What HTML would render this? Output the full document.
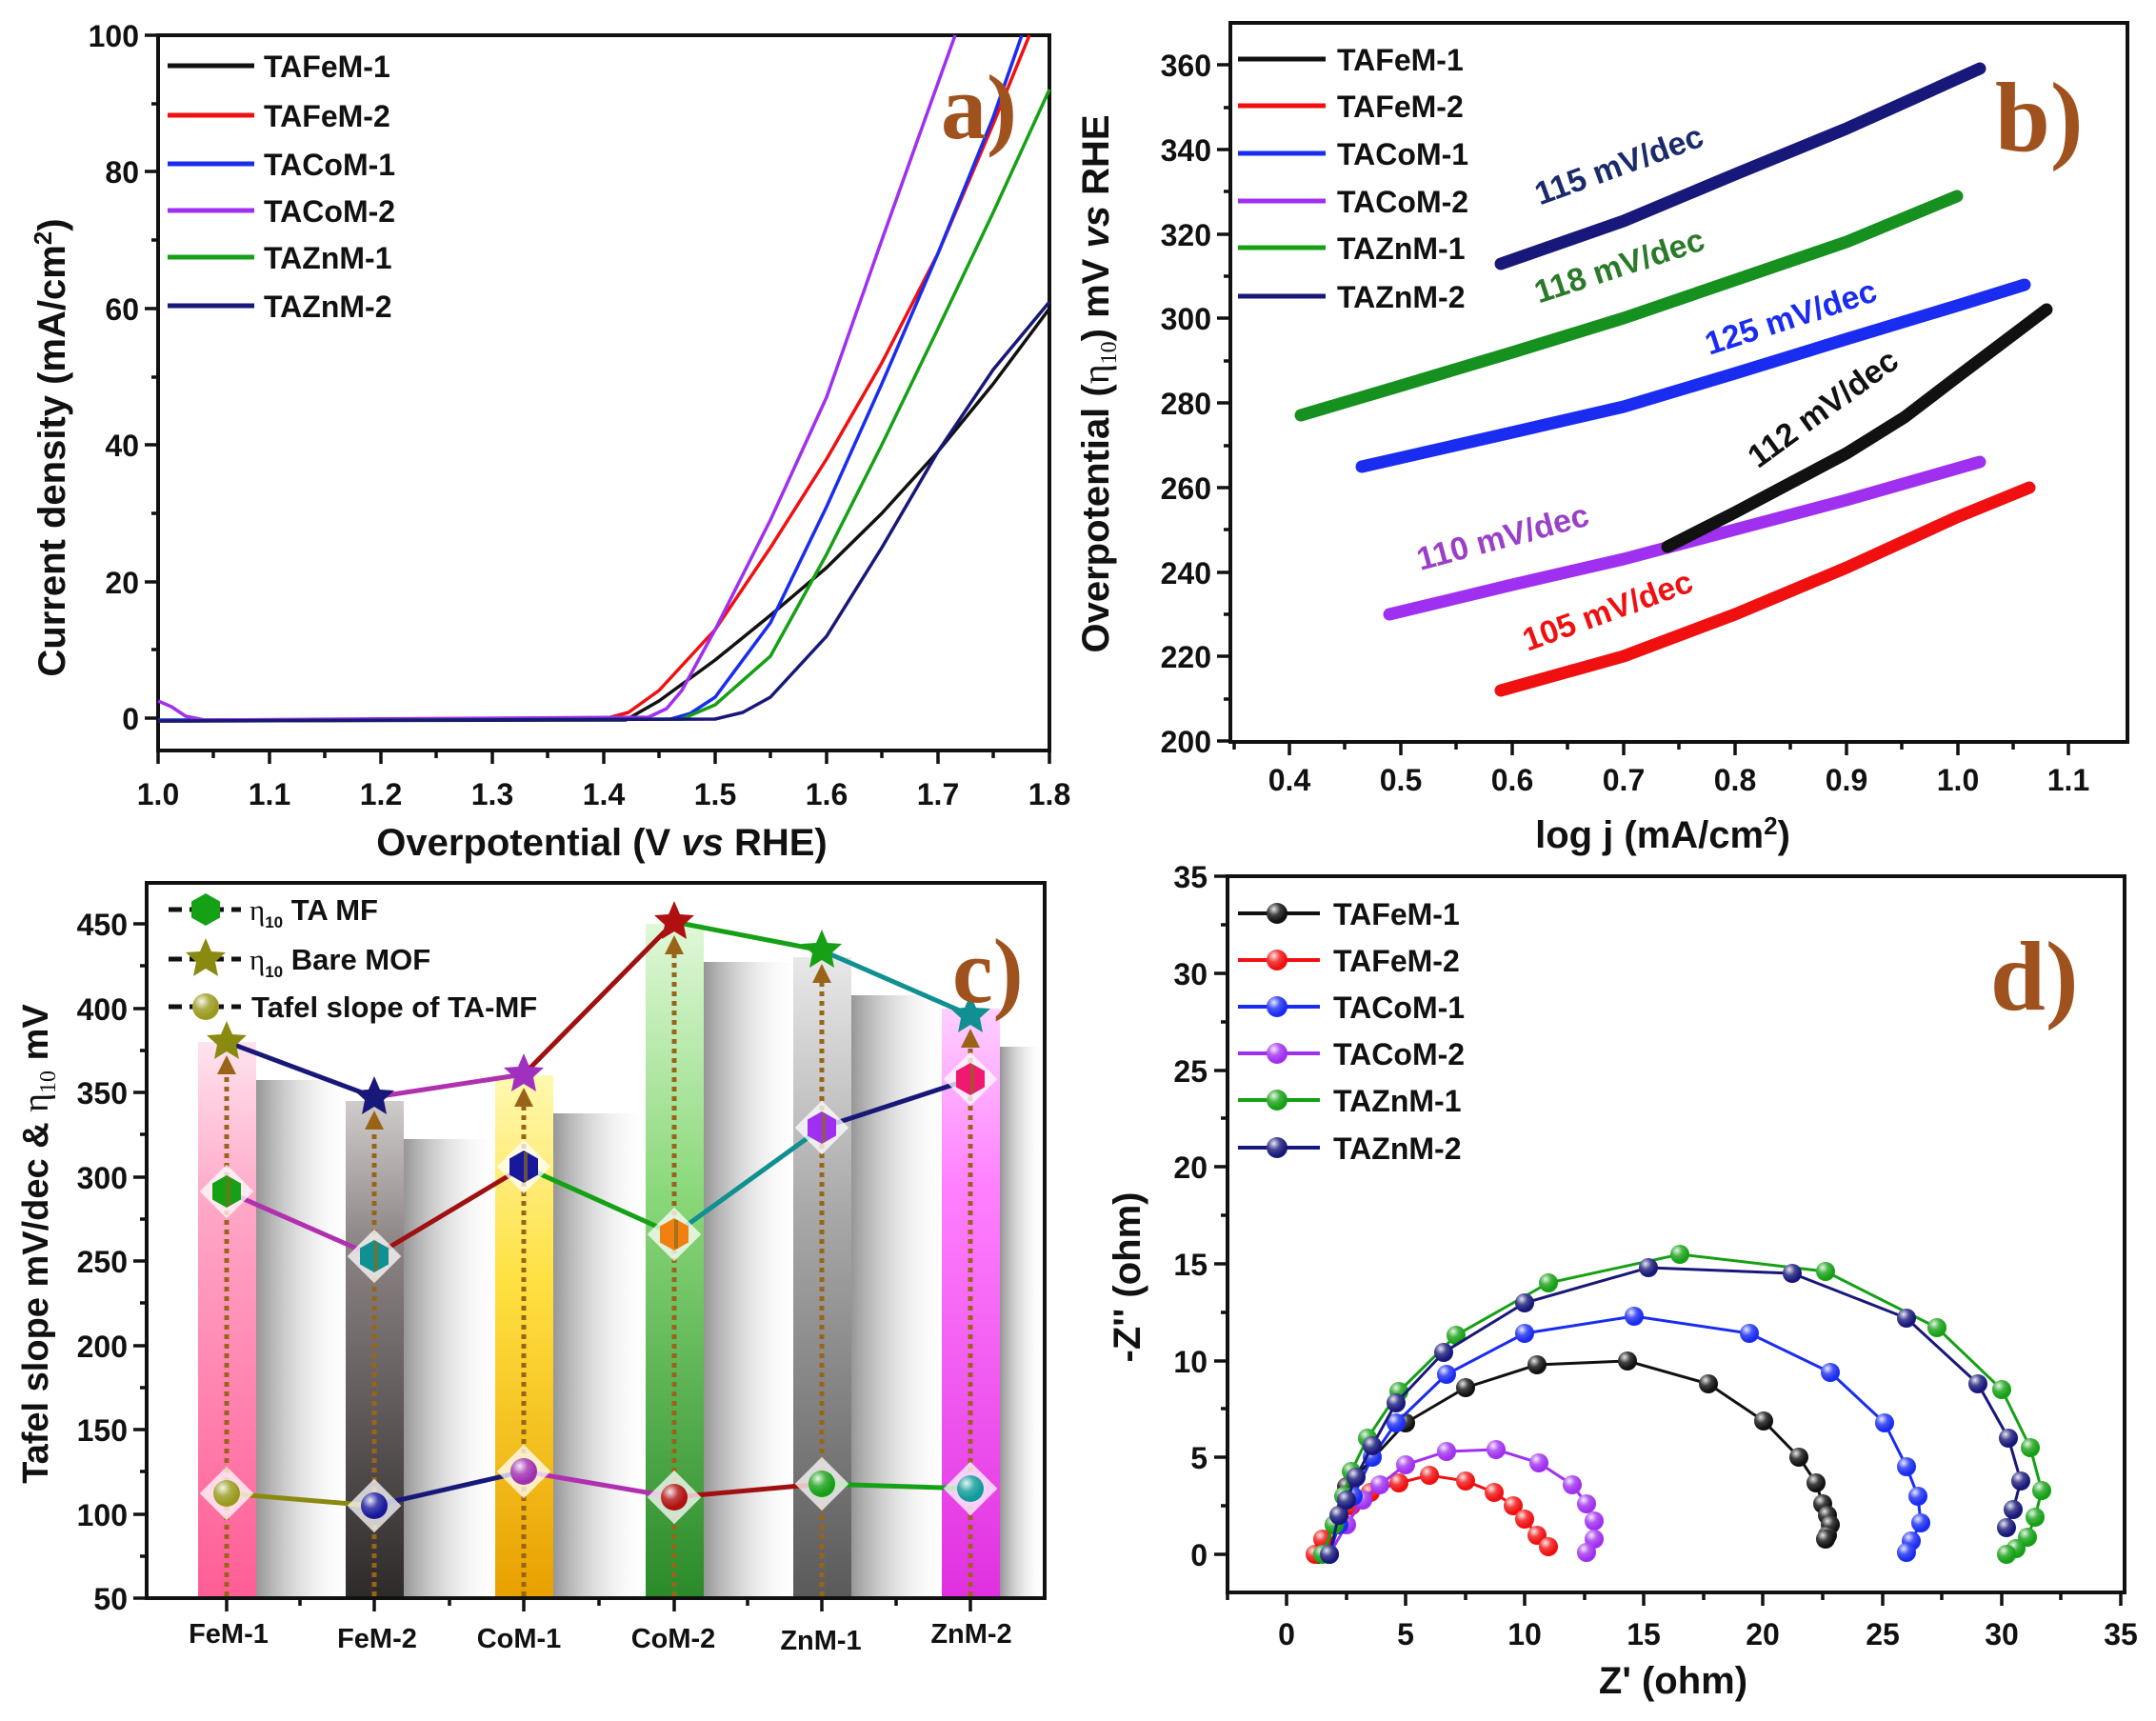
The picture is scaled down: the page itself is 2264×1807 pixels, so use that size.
<!DOCTYPE html>
<html><head><meta charset="utf-8">
<style>
html,body{margin:0;padding:0;background:#fff;}
svg{display:block;}
text{font-family:"Liberation Sans",Arial,sans-serif;font-weight:bold;fill:#111;}
.t{font-size:32px;}
.lg{font-size:32px;}
.ser{font-family:"Liberation Serif","Times New Roman",serif;font-weight:bold;}
.ax{fill:none;stroke:#111;stroke-width:4;}
.tk{stroke:#111;stroke-width:3.5;}
</style></head><body>
<svg width="2264" height="1807" viewBox="0 0 2264 1807" xmlns="http://www.w3.org/2000/svg">
<defs>
<radialGradient id="hl" cx="0.35" cy="0.3" r="0.6"><stop offset="0" stop-color="#fff" stop-opacity="0.9"/><stop offset="0.5" stop-color="#fff" stop-opacity="0.2"/><stop offset="1" stop-color="#fff" stop-opacity="0"/></radialGradient>
<marker id="mk" markerUnits="userSpaceOnUse" markerWidth="26" markerHeight="26" refX="13" refY="13"><circle cx="13" cy="13" r="10" fill="#111"/><circle cx="13" cy="13" r="10" fill="url(#hl)"/></marker>
<marker id="mr" markerUnits="userSpaceOnUse" markerWidth="26" markerHeight="26" refX="13" refY="13"><circle cx="13" cy="13" r="10" fill="#f01010"/><circle cx="13" cy="13" r="10" fill="url(#hl)"/></marker>
<marker id="mb" markerUnits="userSpaceOnUse" markerWidth="26" markerHeight="26" refX="13" refY="13"><circle cx="13" cy="13" r="10" fill="#1a2cf0"/><circle cx="13" cy="13" r="10" fill="url(#hl)"/></marker>
<marker id="mp" markerUnits="userSpaceOnUse" markerWidth="26" markerHeight="26" refX="13" refY="13"><circle cx="13" cy="13" r="10" fill="#a030f0"/><circle cx="13" cy="13" r="10" fill="url(#hl)"/></marker>
<marker id="mg" markerUnits="userSpaceOnUse" markerWidth="26" markerHeight="26" refX="13" refY="13"><circle cx="13" cy="13" r="10" fill="#16a016"/><circle cx="13" cy="13" r="10" fill="url(#hl)"/></marker>
<marker id="mn" markerUnits="userSpaceOnUse" markerWidth="26" markerHeight="26" refX="13" refY="13"><circle cx="13" cy="13" r="10" fill="#18187a"/><circle cx="13" cy="13" r="10" fill="url(#hl)"/></marker>
<path id="star" d="M0,-22 L6,-8 L21,-7 L10,3 L13,18 L0,10 L-13,18 L-10,3 L-21,-7 L-6,-8 Z"/>
<path id="hex" d="M0,-17 L15,-8.5 L15,8.5 L0,17 L-15,8.5 L-15,-8.5 Z"/>
<path id="tri" d="M0,-12 L10,8 L-10,8 Z"/>
<linearGradient id="g1" x1="0" y1="0" x2="0" y2="1"><stop offset="0" stop-color="#ffe3ee"/><stop offset="0.3" stop-color="#ffa6c6"/><stop offset="1" stop-color="#ff5d95"/></linearGradient>
<linearGradient id="g2" x1="0" y1="0" x2="0" y2="1"><stop offset="0" stop-color="#d0cccc"/><stop offset="0.3" stop-color="#8a8282"/><stop offset="1" stop-color="#2e2a2a"/></linearGradient>
<linearGradient id="g3" x1="0" y1="0" x2="0" y2="1"><stop offset="0" stop-color="#fff8b0"/><stop offset="0.4" stop-color="#ffe040"/><stop offset="1" stop-color="#e8a000"/></linearGradient>
<linearGradient id="g4" x1="0" y1="0" x2="0" y2="1"><stop offset="0" stop-color="#e0f8d8"/><stop offset="0.4" stop-color="#8ad87a"/><stop offset="1" stop-color="#2a8a2a"/></linearGradient>
<linearGradient id="g5" x1="0" y1="0" x2="0" y2="1"><stop offset="0" stop-color="#e8e8e8"/><stop offset="0.4" stop-color="#a8a8a8"/><stop offset="1" stop-color="#5a5a5a"/></linearGradient>
<linearGradient id="g6" x1="0" y1="0" x2="0" y2="1"><stop offset="0" stop-color="#ffd0ff"/><stop offset="0.3" stop-color="#ff80ff"/><stop offset="1" stop-color="#e030e0"/></linearGradient>
<linearGradient id="sh" x1="0" y1="0" x2="1" y2="0"><stop offset="0" stop-color="#8a8a8a" stop-opacity="0.9"/><stop offset="1" stop-color="#ffffff" stop-opacity="0"/></linearGradient>
</defs>

<!-- ============ PANEL A ============ -->
<g>
<rect x="166" y="37" width="936" height="751" class="ax"/>
<g class="tk">
<line x1="152" y1="754" x2="166" y2="754"/><line x1="152" y1="611" x2="166" y2="611"/><line x1="152" y1="467" x2="166" y2="467"/><line x1="152" y1="324" x2="166" y2="324"/><line x1="152" y1="180" x2="166" y2="180"/><line x1="152" y1="37" x2="166" y2="37"/>
<line x1="159" y1="682" x2="166" y2="682"/><line x1="159" y1="539" x2="166" y2="539"/><line x1="159" y1="396" x2="166" y2="396"/><line x1="159" y1="252" x2="166" y2="252"/><line x1="159" y1="109" x2="166" y2="109"/>
<line x1="166" y1="788" x2="166" y2="802"/><line x1="283" y1="788" x2="283" y2="802"/><line x1="400" y1="788" x2="400" y2="802"/><line x1="517" y1="788" x2="517" y2="802"/><line x1="634" y1="788" x2="634" y2="802"/><line x1="751" y1="788" x2="751" y2="802"/><line x1="868" y1="788" x2="868" y2="802"/><line x1="985" y1="788" x2="985" y2="802"/><line x1="1102" y1="788" x2="1102" y2="802"/>
<line x1="224" y1="788" x2="224" y2="796"/><line x1="341" y1="788" x2="341" y2="796"/><line x1="458" y1="788" x2="458" y2="796"/><line x1="575" y1="788" x2="575" y2="796"/><line x1="692" y1="788" x2="692" y2="796"/><line x1="809" y1="788" x2="809" y2="796"/><line x1="926" y1="788" x2="926" y2="796"/><line x1="1043" y1="788" x2="1043" y2="796"/>
</g>
<g class="t" text-anchor="end">
<text x="146" y="766">0</text><text x="146" y="623">20</text><text x="146" y="479">40</text><text x="146" y="336">60</text><text x="146" y="192">80</text><text x="146" y="49">100</text>
</g>
<g class="t" text-anchor="middle">
<text x="166" y="845">1.0</text><text x="283" y="845">1.1</text><text x="400" y="845">1.2</text><text x="517" y="845">1.3</text><text x="634" y="845">1.4</text><text x="751" y="845">1.5</text><text x="868" y="845">1.6</text><text x="985" y="845">1.7</text><text x="1102" y="845">1.8</text>
</g>
<text x="632" y="898" text-anchor="middle" style="font-size:40px">Overpotential (V <tspan font-style="italic">vs</tspan> RHE)</text>
<text transform="translate(68,470) rotate(-90)" text-anchor="middle" style="font-size:40px">Current density (mA/cm<tspan dy="-14" style="font-size:26px">2</tspan><tspan dy="14">)</tspan></text>
<g fill="none" stroke-width="3.5" stroke-linejoin="round">
<polyline stroke="#111" points="166,757 657,756 692,736 751,693 809,646 868,596 926,539 985,474 1043,403 1102,324"/>
<polyline stroke="#f01010" points="166,757 634,755 660,748 692,725 751,661 809,575 868,482 926,381 985,266 1043,130 1081,37"/>
<polyline stroke="#1a2cf0" points="166,756 704,755 725,749 751,732 809,654 868,532 926,403 985,266 1043,123 1073,37"/>
<polyline stroke="#a030f0" points="166,736 180,742 195,752 215,756 681,753 700,744 716,725 751,661 809,546 868,417 926,252 985,87 1003,37"/>
<polyline stroke="#16a016" points="166,757 716,755 751,740 809,689 868,582 926,467 985,345 1043,223 1102,94"/>
<polyline stroke="#18187a" points="166,757 751,755 780,748 809,732 868,668 926,575 985,474 1043,388 1102,317"/>
</g>
<g stroke-width="5">
<line x1="176" y1="69" x2="267" y2="69" stroke="#111"/><line x1="176" y1="121" x2="267" y2="121" stroke="#f01010"/><line x1="176" y1="172" x2="267" y2="172" stroke="#1a2cf0"/><line x1="176" y1="221" x2="267" y2="221" stroke="#a030f0"/><line x1="176" y1="270" x2="267" y2="270" stroke="#16a016"/><line x1="176" y1="321" x2="267" y2="321" stroke="#18187a"/>
</g>
<g class="lg">
<text x="277" y="81">TAFeM-1</text><text x="277" y="133">TAFeM-2</text><text x="277" y="184">TACoM-1</text><text x="277" y="233">TACoM-2</text><text x="277" y="282">TAZnM-1</text><text x="277" y="333">TAZnM-2</text>
</g>
<text x="988" y="145" class="ser" style="font-size:96px;fill:#a0521e">a)</text>
</g>

<!-- ============ PANEL B ============ -->
<g>
<rect x="1292" y="24" width="942" height="755" class="ax"/>
<g class="tk">
<line x1="1278" y1="778" x2="1292" y2="778"/><line x1="1278" y1="689" x2="1292" y2="689"/><line x1="1278" y1="601" x2="1292" y2="601"/><line x1="1278" y1="512" x2="1292" y2="512"/><line x1="1278" y1="423" x2="1292" y2="423"/><line x1="1278" y1="334" x2="1292" y2="334"/><line x1="1278" y1="246" x2="1292" y2="246"/><line x1="1278" y1="157" x2="1292" y2="157"/><line x1="1278" y1="68" x2="1292" y2="68"/>
<line x1="1285" y1="734" x2="1292" y2="734"/><line x1="1285" y1="645" x2="1292" y2="645"/><line x1="1285" y1="556" x2="1292" y2="556"/><line x1="1285" y1="468" x2="1292" y2="468"/><line x1="1285" y1="379" x2="1292" y2="379"/><line x1="1285" y1="290" x2="1292" y2="290"/><line x1="1285" y1="201" x2="1292" y2="201"/><line x1="1285" y1="113" x2="1292" y2="113"/>
<line x1="1354" y1="779" x2="1354" y2="793"/><line x1="1471" y1="779" x2="1471" y2="793"/><line x1="1588" y1="779" x2="1588" y2="793"/><line x1="1705" y1="779" x2="1705" y2="793"/><line x1="1822" y1="779" x2="1822" y2="793"/><line x1="1939" y1="779" x2="1939" y2="793"/><line x1="2056" y1="779" x2="2056" y2="793"/><line x1="2172" y1="779" x2="2172" y2="793"/>
<line x1="1296" y1="779" x2="1296" y2="787"/><line x1="1412" y1="779" x2="1412" y2="787"/><line x1="1529" y1="779" x2="1529" y2="787"/><line x1="1646" y1="779" x2="1646" y2="787"/><line x1="1763" y1="779" x2="1763" y2="787"/><line x1="1880" y1="779" x2="1880" y2="787"/><line x1="1997" y1="779" x2="1997" y2="787"/><line x1="2114" y1="779" x2="2114" y2="787"/>
</g>
<g class="t" text-anchor="end">
<text x="1272" y="790">200</text><text x="1272" y="701">220</text><text x="1272" y="613">240</text><text x="1272" y="524">260</text><text x="1272" y="435">280</text><text x="1272" y="346">300</text><text x="1272" y="258">320</text><text x="1272" y="169">340</text><text x="1272" y="80">360</text>
</g>
<g class="t" text-anchor="middle">
<text x="1354" y="830">0.4</text><text x="1471" y="830">0.5</text><text x="1588" y="830">0.6</text><text x="1705" y="830">0.7</text><text x="1822" y="830">0.8</text><text x="1939" y="830">0.9</text><text x="2056" y="830">1.0</text><text x="2172" y="830">1.1</text>
</g>
<text x="1746" y="890" text-anchor="middle" style="font-size:40px">log j (mA/cm<tspan dy="-14" style="font-size:26px">2</tspan><tspan dy="14">)</tspan></text>
<text transform="translate(1164,403) rotate(-90)" text-anchor="middle" style="font-size:40px">Overpotential (<tspan class="ser" style="font-weight:normal">η</tspan><tspan dy="8" style="font-size:24px;font-weight:normal" class="ser">10</tspan><tspan dy="-8">) mV </tspan><tspan font-style="italic">vs</tspan> RHE</text>
<g fill="none" stroke-width="13" stroke-linecap="round" stroke-linejoin="round">
<polyline stroke="#18187a" points="1576,277 1705,232 1822,183 1939,135 2079,72"/>
<polyline stroke="#16901e" points="1366,436 1471,405 1588,370 1705,334 1822,294 1939,254 2055,206"/>
<polyline stroke="#1a2cf0" points="1430,490 1588,454 1705,427 1822,392 1939,356 2055,321 2126,299"/>
<polyline stroke="#a030f0" points="1459,645 1588,614 1705,587 1822,556 1939,525 2079,485"/>
<polyline stroke="#111" points="1751,574 1822,538 1939,476 2000,438 2055,396 2149,325"/>
<polyline stroke="#f01010" points="1576,725 1705,689 1822,645 1939,596 2055,543 2131,512"/>
</g>
<g stroke-width="5">
<line x1="1300" y1="62" x2="1392" y2="62" stroke="#111"/><line x1="1300" y1="111" x2="1392" y2="111" stroke="#f01010"/><line x1="1300" y1="161" x2="1392" y2="161" stroke="#1a2cf0"/><line x1="1300" y1="211" x2="1392" y2="211" stroke="#a030f0"/><line x1="1300" y1="260" x2="1392" y2="260" stroke="#16a016"/><line x1="1300" y1="311" x2="1392" y2="311" stroke="#18187a"/>
</g>
<g class="lg">
<text x="1404" y="74">TAFeM-1</text><text x="1404" y="123">TAFeM-2</text><text x="1404" y="173">TACoM-1</text><text x="1404" y="223">TACoM-2</text><text x="1404" y="272">TAZnM-1</text><text x="1404" y="323">TAZnM-2</text>
</g>
<g class="ser" style="font-size:34px" text-anchor="middle">
<text transform="translate(1704,184) rotate(-20)" style="fill:#1a2a6a">115 mV/dec</text>
<text transform="translate(1704,290) rotate(-18)" style="fill:#2a7a2a">118 mV/dec</text>
<text transform="translate(1884,344) rotate(-18)" style="fill:#1a2cf0">125 mV/dec</text>
<text transform="translate(1921,438) rotate(-36)" style="fill:#111">112 mV/dec</text>
<text transform="translate(1581,575) rotate(-15)" style="fill:#9a40c8">110 mV/dec</text>
<text transform="translate(1692,652) rotate(-20)" style="fill:#f01010">105 mV/dec</text>
</g>
<text x="2095" y="158" class="ser" style="font-size:104px;fill:#a0521e">b)</text>
</g>

<!-- ============ PANEL C ============ -->
<g>
<g>
<rect x="269" y="1134" width="100" height="544" fill="url(#sh)"/>
<rect x="424" y="1196" width="100" height="482" fill="url(#sh)"/>
<rect x="581" y="1169" width="100" height="509" fill="url(#sh)"/>
<rect x="739" y="1010" width="100" height="668" fill="url(#sh)"/>
<rect x="894" y="1045" width="100" height="633" fill="url(#sh)"/>
<rect x="1050" y="1099" width="47" height="579" fill="url(#sh)"/>
</g>
<g>
<rect x="208" y="1094" width="61" height="584" fill="url(#g1)"/>
<rect x="363" y="1156" width="61" height="522" fill="url(#g2)"/>
<rect x="520" y="1129" width="61" height="549" fill="url(#g3)"/>
<rect x="678" y="970" width="61" height="708" fill="url(#g4)"/>
<rect x="833" y="1005" width="61" height="673" fill="url(#g5)"/>
<rect x="989" y="1059" width="61" height="619" fill="url(#g6)"/>
</g>
<rect x="154" y="927" width="943" height="751" class="ax"/>
<g class="tk">
<line x1="140" y1="1678" x2="154" y2="1678"/><line x1="140" y1="1590" x2="154" y2="1590"/><line x1="140" y1="1501" x2="154" y2="1501"/><line x1="140" y1="1413" x2="154" y2="1413"/><line x1="140" y1="1324" x2="154" y2="1324"/><line x1="140" y1="1236" x2="154" y2="1236"/><line x1="140" y1="1147" x2="154" y2="1147"/><line x1="140" y1="1059" x2="154" y2="1059"/><line x1="140" y1="970" x2="154" y2="970"/>
<line x1="147" y1="1634" x2="154" y2="1634"/><line x1="147" y1="1545" x2="154" y2="1545"/><line x1="147" y1="1457" x2="154" y2="1457"/><line x1="147" y1="1368" x2="154" y2="1368"/><line x1="147" y1="1280" x2="154" y2="1280"/><line x1="147" y1="1191" x2="154" y2="1191"/><line x1="147" y1="1103" x2="154" y2="1103"/><line x1="147" y1="1014" x2="154" y2="1014"/>
<line x1="238" y1="1678" x2="238" y2="1692"/><line x1="393" y1="1678" x2="393" y2="1692"/><line x1="550" y1="1678" x2="550" y2="1692"/><line x1="708" y1="1678" x2="708" y2="1692"/><line x1="863" y1="1678" x2="863" y2="1692"/><line x1="1019" y1="1678" x2="1019" y2="1692"/>
<line x1="315" y1="1678" x2="315" y2="1686"/><line x1="472" y1="1678" x2="472" y2="1686"/><line x1="629" y1="1678" x2="629" y2="1686"/><line x1="785" y1="1678" x2="785" y2="1686"/><line x1="941" y1="1678" x2="941" y2="1686"/>
</g>
<g class="t" text-anchor="end">
<text x="134" y="1690">50</text><text x="134" y="1602">100</text><text x="134" y="1513">150</text><text x="134" y="1425">200</text><text x="134" y="1336">250</text><text x="134" y="1248">300</text><text x="134" y="1159">350</text><text x="134" y="1071">400</text><text x="134" y="982">450</text>
</g>
<g text-anchor="middle" style="font-size:29px">
<text x="240" y="1725">FeM-1</text><text x="396" y="1730">FeM-2</text><text x="545" y="1730">CoM-1</text><text x="707" y="1730">CoM-2</text><text x="862" y="1732">ZnM-1</text><text x="1020" y="1725">ZnM-2</text>
</g>
<text transform="translate(50,1306) rotate(-90)" text-anchor="middle" style="font-size:38px">Tafel slope mV/dec &amp; <tspan class="ser" style="font-weight:normal">η</tspan><tspan dy="8" class="ser" style="font-size:24px;font-weight:normal">10</tspan><tspan dy="-8"> mV</tspan></text>
<g stroke="#9a6418" stroke-width="5" stroke-dasharray="5,5">
<line x1="238" y1="1676" x2="238" y2="1124"/><line x1="393" y1="1676" x2="393" y2="1182"/><line x1="550" y1="1676" x2="550" y2="1158"/><line x1="708" y1="1676" x2="708" y2="998"/><line x1="863" y1="1676" x2="863" y2="1028"/><line x1="1019" y1="1676" x2="1019" y2="1096"/>
</g>
<g fill="#9a6418">
<use href="#tri" x="238" y="1120"/><use href="#tri" x="393" y="1178"/><use href="#tri" x="550" y="1154"/><use href="#tri" x="708" y="994"/><use href="#tri" x="863" y="1024"/><use href="#tri" x="1019" y="1092"/>
</g>
<g stroke-width="5" fill="none">
<line x1="238" y1="1094" x2="393" y2="1152" stroke="#18187a"/><line x1="393" y1="1152" x2="550" y2="1128" stroke="#b030b0"/><line x1="550" y1="1128" x2="708" y2="968" stroke="#a01010"/><line x1="708" y1="968" x2="863" y2="998" stroke="#16a016"/><line x1="863" y1="998" x2="1019" y2="1066" stroke="#109090"/>
<line x1="238" y1="1251" x2="393" y2="1319" stroke="#b030b0"/><line x1="393" y1="1319" x2="550" y2="1225" stroke="#a01010"/><line x1="550" y1="1225" x2="708" y2="1296" stroke="#16a016"/><line x1="708" y1="1296" x2="863" y2="1184" stroke="#109090"/><line x1="863" y1="1184" x2="1019" y2="1133" stroke="#18187a"/>
<line x1="238" y1="1568" x2="393" y2="1581" stroke="#8a8a10"/><line x1="393" y1="1581" x2="550" y2="1545" stroke="#18187a"/><line x1="550" y1="1545" x2="708" y2="1572" stroke="#b030b0"/><line x1="708" y1="1572" x2="863" y2="1558" stroke="#a01010"/><line x1="863" y1="1558" x2="1019" y2="1563" stroke="#16a016"/>
</g>
<g fill="#fff" opacity="0.75">
<rect x="-20" y="-20" width="40" height="40" transform="translate(238,1251) rotate(45)"/><rect x="-20" y="-20" width="40" height="40" transform="translate(393,1319) rotate(45)"/><rect x="-20" y="-20" width="40" height="40" transform="translate(550,1225) rotate(45)"/><rect x="-20" y="-20" width="40" height="40" transform="translate(708,1296) rotate(45)"/><rect x="-20" y="-20" width="40" height="40" transform="translate(863,1184) rotate(45)"/><rect x="-20" y="-20" width="40" height="40" transform="translate(1019,1133) rotate(45)"/>
<rect x="-20" y="-20" width="40" height="40" transform="translate(238,1568) rotate(45)"/><rect x="-20" y="-20" width="40" height="40" transform="translate(393,1581) rotate(45)"/><rect x="-20" y="-20" width="40" height="40" transform="translate(550,1545) rotate(45)"/><rect x="-20" y="-20" width="40" height="40" transform="translate(708,1572) rotate(45)"/><rect x="-20" y="-20" width="40" height="40" transform="translate(863,1558) rotate(45)"/><rect x="-20" y="-20" width="40" height="40" transform="translate(1019,1563) rotate(45)"/>
</g>
<g>
<use href="#star" x="238" y="1094" fill="#8a8a10"/><use href="#star" x="393" y="1152" fill="#18187a"/><use href="#star" x="550" y="1128" fill="#a030c0"/><use href="#star" x="708" y="968" fill="#b01010"/><use href="#star" x="863" y="998" fill="#16a016"/><use href="#star" x="1019" y="1066" fill="#109090"/>
</g>
<g>
<use href="#hex" x="238" y="1251" fill="#16a016"/><use href="#hex" x="393" y="1319" fill="#109090"/><use href="#hex" x="550" y="1225" fill="#18189a"/><use href="#hex" x="708" y="1296" fill="#f08010"/><use href="#hex" x="863" y="1184" fill="#a030f0"/><use href="#hex" x="1019" y="1133" fill="#f01870"/>
</g>
<g fill="#8a6a1a" opacity="0.7">
<rect x="238" y="1236" width="4" height="30"/><rect x="393" y="1304" width="4" height="30"/><rect x="550" y="1210" width="4" height="30"/><rect x="708" y="1281" width="4" height="30"/><rect x="863" y="1169" width="4" height="30"/><rect x="1019" y="1118" width="4" height="30"/>
</g>
<g>
<circle cx="238" cy="1568" r="14" fill="#9a9a20"/><circle cx="393" cy="1581" r="14" fill="#18189a"/><circle cx="550" cy="1545" r="14" fill="#a030b0"/><circle cx="708" cy="1572" r="14" fill="#b01010"/><circle cx="863" cy="1558" r="14" fill="#16a016"/><circle cx="1019" cy="1563" r="14" fill="#109a9a"/>
<circle cx="238" cy="1568" r="14" fill="url(#hl)"/><circle cx="393" cy="1581" r="14" fill="url(#hl)"/><circle cx="550" cy="1545" r="14" fill="url(#hl)"/><circle cx="708" cy="1572" r="14" fill="url(#hl)"/><circle cx="863" cy="1558" r="14" fill="url(#hl)"/><circle cx="1019" cy="1563" r="14" fill="url(#hl)"/>
</g>
<g stroke="#111" stroke-width="5" stroke-dasharray="14,8">
<line x1="177" y1="955" x2="253" y2="955"/><line x1="177" y1="1007" x2="253" y2="1007"/><line x1="177" y1="1057" x2="253" y2="1057"/>
</g>
<use href="#hex" x="216" y="955" fill="#16a016"/>
<use href="#star" x="216" y="1007" fill="#8a8a10"/>
<circle cx="216" cy="1057" r="14" fill="#9a9a20"/><circle cx="216" cy="1057" r="14" fill="url(#hl)"/>
<g style="font-size:31px">
<text x="262" y="966"><tspan class="ser" style="font-weight:normal">η</tspan><tspan dy="8" style="font-size:17px">10</tspan><tspan dy="-8"> TA MF</tspan></text>
<text x="262" y="1018"><tspan class="ser" style="font-weight:normal">η</tspan><tspan dy="8" style="font-size:17px">10</tspan><tspan dy="-8"> Bare MOF</tspan></text>
<text x="264" y="1068">Tafel slope of TA-MF</text>
</g>
<text x="1000" y="1052" class="ser" style="font-size:96px;fill:#a0521e">c)</text>
</g>

<!-- ============ PANEL D ============ -->
<g>
<rect x="1289" y="920" width="942" height="752" class="ax"/>
<g class="tk">
<line x1="1275" y1="1632" x2="1289" y2="1632"/><line x1="1275" y1="1530" x2="1289" y2="1530"/><line x1="1275" y1="1429" x2="1289" y2="1429"/><line x1="1275" y1="1327" x2="1289" y2="1327"/><line x1="1275" y1="1225" x2="1289" y2="1225"/><line x1="1275" y1="1124" x2="1289" y2="1124"/><line x1="1275" y1="1022" x2="1289" y2="1022"/><line x1="1275" y1="920" x2="1289" y2="920"/>
<line x1="1282" y1="1581" x2="1289" y2="1581"/><line x1="1282" y1="1479" x2="1289" y2="1479"/><line x1="1282" y1="1378" x2="1289" y2="1378"/><line x1="1282" y1="1276" x2="1289" y2="1276"/><line x1="1282" y1="1174" x2="1289" y2="1174"/><line x1="1282" y1="1073" x2="1289" y2="1073"/><line x1="1282" y1="971" x2="1289" y2="971"/>
<line x1="1351" y1="1672" x2="1351" y2="1686"/><line x1="1476" y1="1672" x2="1476" y2="1686"/><line x1="1601" y1="1672" x2="1601" y2="1686"/><line x1="1726" y1="1672" x2="1726" y2="1686"/><line x1="1851" y1="1672" x2="1851" y2="1686"/><line x1="1977" y1="1672" x2="1977" y2="1686"/><line x1="2102" y1="1672" x2="2102" y2="1686"/><line x1="2227" y1="1672" x2="2227" y2="1686"/>
<line x1="1289" y1="1672" x2="1289" y2="1680"/><line x1="1414" y1="1672" x2="1414" y2="1680"/><line x1="1539" y1="1672" x2="1539" y2="1680"/><line x1="1664" y1="1672" x2="1664" y2="1680"/><line x1="1789" y1="1672" x2="1789" y2="1680"/><line x1="1914" y1="1672" x2="1914" y2="1680"/><line x1="2039" y1="1672" x2="2039" y2="1680"/><line x1="2164" y1="1672" x2="2164" y2="1680"/>
</g>
<g class="t" text-anchor="end">
<text x="1268" y="1644">0</text><text x="1268" y="1542">5</text><text x="1268" y="1441">10</text><text x="1268" y="1339">15</text><text x="1268" y="1237">20</text><text x="1268" y="1136">25</text><text x="1268" y="1034">30</text><text x="1268" y="932">35</text>
</g>
<g class="t" text-anchor="middle">
<text x="1351" y="1727">0</text><text x="1476" y="1727">5</text><text x="1601" y="1727">10</text><text x="1726" y="1727">15</text><text x="1851" y="1727">20</text><text x="1977" y="1727">25</text><text x="2102" y="1727">30</text><text x="2227" y="1727">35</text>
</g>
<text x="1757" y="1778" text-anchor="middle" style="font-size:40px">Z' (ohm)</text>
<text transform="translate(1197,1341) rotate(-90)" text-anchor="middle" style="font-size:40px">-Z'' (ohm)</text>
<g fill="none" stroke-width="3">
<polyline stroke="#111" marker-start="url(#mk)" marker-mid="url(#mk)" marker-end="url(#mk)" points="1384,1632 1414,1561 1476,1494 1539,1457 1614,1433 1709,1429 1794,1453 1852,1492 1889,1530 1907,1557 1914,1579 1919,1591 1922,1601 1919,1612 1917,1616"/>
<polyline stroke="#f01010" marker-start="url(#mr)" marker-mid="url(#mr)" marker-end="url(#mr)" points="1381,1632 1389,1616 1401,1601 1419,1581 1439,1567 1469,1557 1501,1549 1539,1555 1569,1567 1589,1581 1601,1595 1614,1612 1626,1624"/>
<polyline stroke="#a030f0" marker-start="url(#mp)" marker-mid="url(#mp)" marker-end="url(#mp)" points="1396,1632 1414,1601 1431,1575 1449,1559 1476,1538 1519,1524 1571,1522 1616,1536 1651,1559 1666,1579 1674,1597 1674,1616 1666,1630"/>
<polyline stroke="#1a2cf0" marker-start="url(#mb)" marker-mid="url(#mb)" marker-end="url(#mb)" points="1396,1632 1406,1601 1421,1571 1441,1530 1466,1494 1519,1443 1601,1400 1716,1382 1837,1400 1922,1441 1979,1494 2002,1540 2014,1571 2017,1599 2007,1618 2002,1630"/>
<polyline stroke="#16a016" marker-start="url(#mg)" marker-mid="url(#mg)" marker-end="url(#mg)" points="1389,1632 1401,1601 1411,1571 1419,1545 1436,1510 1469,1461 1529,1402 1626,1347 1764,1317 1917,1335 2034,1394 2102,1459 2132,1520 2144,1565 2137,1593 2129,1614 2117,1626 2107,1632"/>
<polyline stroke="#18187a" marker-start="url(#mn)" marker-mid="url(#mn)" marker-end="url(#mn)" points="1396,1632 1406,1591 1414,1575 1424,1551 1441,1518 1466,1473 1516,1420 1601,1368 1731,1331 1882,1337 2002,1384 2077,1453 2109,1510 2122,1555 2114,1585 2107,1604"/>
</g>
<g stroke-width="4">
<line x1="1300" y1="959" x2="1386" y2="959" stroke="#111"/><line x1="1300" y1="1008" x2="1386" y2="1008" stroke="#f01010"/><line x1="1300" y1="1057" x2="1386" y2="1057" stroke="#1a2cf0"/><line x1="1300" y1="1106" x2="1386" y2="1106" stroke="#a030f0"/><line x1="1300" y1="1155" x2="1386" y2="1155" stroke="#16a016"/><line x1="1300" y1="1205" x2="1386" y2="1205" stroke="#18187a"/>
</g>
<g>
<circle cx="1341" cy="959" r="11" fill="#111"/><circle cx="1341" cy="1008" r="11" fill="#f01010"/><circle cx="1341" cy="1057" r="11" fill="#1a2cf0"/><circle cx="1341" cy="1106" r="11" fill="#a030f0"/><circle cx="1341" cy="1155" r="11" fill="#16a016"/><circle cx="1341" cy="1205" r="11" fill="#18187a"/>
<circle cx="1341" cy="959" r="11" fill="url(#hl)"/><circle cx="1341" cy="1008" r="11" fill="url(#hl)"/><circle cx="1341" cy="1057" r="11" fill="url(#hl)"/><circle cx="1341" cy="1106" r="11" fill="url(#hl)"/><circle cx="1341" cy="1155" r="11" fill="url(#hl)"/><circle cx="1341" cy="1205" r="11" fill="url(#hl)"/>
</g>
<g class="lg">
<text x="1400" y="971">TAFeM-1</text><text x="1400" y="1020">TAFeM-2</text><text x="1400" y="1069">TACoM-1</text><text x="1400" y="1118">TACoM-2</text><text x="1400" y="1167">TAZnM-1</text><text x="1400" y="1217">TAZnM-2</text>
</g>
<text x="2090" y="1060" class="ser" style="font-size:104px;fill:#a0521e">d)</text>
</g>
</svg>
</body></html>
